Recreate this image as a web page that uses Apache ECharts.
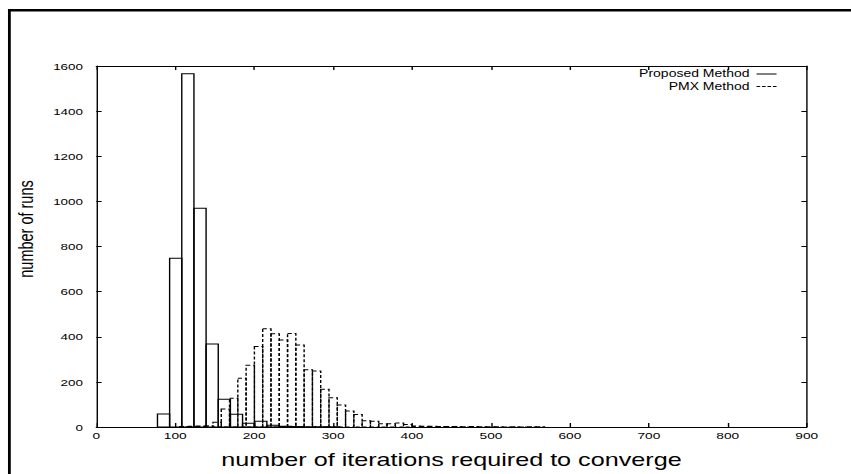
<!DOCTYPE html>
<html><head><meta charset="utf-8">
<script src="https://cdn.jsdelivr.net/npm/echarts@6/dist/echarts.min.js"></script>
<style>
html,body{margin:0;padding:0;background:#fff;overflow:hidden;width:851px;height:474px;}
#chart{width:608px;height:474px;transform:scaleX(1.39967);transform-origin:0 0;}
</style></head><body><div id="chart"></div>
<script>
// tick labels
const xTicks = [0, 100, 200, 300, 400, 500, 600, 700, 800, 900];
const yTicks = [0, 200, 400, 600, 800, 1000, 1200, 1400, 1600];
const seriesNames = ['Proposed Method', 'PMX Method'];
const xTitle = 'number of iterations required to converge';
const yTitle = 'number of runs';

// Proposed Method histogram (bin left edge, counts)
const proposedBinWidth = 15.4;
const proposedBinStart = [77.5, 92.9, 108.3, 123.7, 139.1, 154.5, 169.9, 185.3, 200.7, 216.1, 231.5, 246.9, 262.3, 277.7, 293.1];
const proposedCounts   = [58, 748, 1566, 970, 368, 123, 56, 17, 25, 8, 3, 2, 1, 1, 1];

// PMX Method histogram (bin left edge, counts)
const pmxBinWidth = 10.5;
const pmxBinStart = [105.8, 116.3, 126.8, 137.3, 147.8, 158.3, 168.8, 179.3, 189.8, 200.3,
  210.8, 221.3, 231.8, 242.3, 252.8, 263.3, 273.8, 284.3, 294.8, 305.3,
  315.8, 326.3, 336.8, 347.3, 357.8, 368.3, 378.8, 389.3, 399.8, 410.3,
  420.8, 431.3, 441.8, 452.3, 462.8, 473.3, 483.8, 494.3, 504.8, 515.3,
  525.8, 536.3, 546.8, 557.3];
const pmxCounts = [2, 3, 4, 5, 21, 80, 127, 216, 274, 357,
  435, 413, 386, 414, 363, 254, 248, 167, 130, 98,
  71, 55, 28, 25, 14, 14, 18, 11, 4, 3,
  3, 2, 2, 2, 1, 2, 1, 1, 1, 0,
  1, 0, 1, 1];

const FONT = 'Liberation Sans, Arial, Helvetica, sans-serif';

function histRender(dashed) {
  return function (params, api) {
    const x0 = api.value(0), x1 = api.value(1), y = api.value(2);
    const a = api.coord([x0, y]);
    const b = api.coord([x1, 0]);
    return {
      type: 'rect',
      shape: { x: a[0], y: a[1], width: b[0] - a[0], height: b[1] - a[1] },
      style: { fill: 'none', stroke: '#000', lineWidth: 1, lineDash: dashed ? [3, 2] : null }
    };
  };
}

const propData = proposedBinStart.map((s, i) => [s, s + proposedBinWidth, proposedCounts[i]]);
const pmxData = pmxBinStart.map((s, i) => [s, s + pmxBinWidth, pmxCounts[i]]);

const xMin = xTicks[0], xMax = xTicks[xTicks.length - 1], xInt = xTicks[1] - xTicks[0];
const yMin = yTicks[0], yMax = yTicks[yTicks.length - 1], yInt = yTicks[1] - yTicks[0];
const plain = v => String(v);

function xAxisCfg(pos, showLabel) {
  return {
    type: 'value', position: pos, min: xMin, max: xMax, interval: xInt,
    axisLine: { show: true, onZero: false, lineStyle: { color: '#000', width: 1 } },
    axisTick: { show: true, inside: true, length: 4, lineStyle: { color: '#000', width: 1 } },
    axisLabel: { show: showLabel, margin: 4, color: '#000', fontSize: 9.8, fontFamily: FONT, formatter: plain },
    splitLine: { show: false }
  };
}
function yAxisCfg(pos, showLabel) {
  return {
    type: 'value', position: pos, min: yMin, max: yMax, interval: yInt,
    axisLine: { show: true, onZero: false, lineStyle: { color: '#000', width: 1 } },
    axisTick: { show: true, inside: true, length: 3.8, lineStyle: { color: '#000', width: 1 } },
    axisLabel: { show: showLabel, margin: 9.5, color: '#000', fontSize: 9.6, fontFamily: FONT, formatter: plain },
    splitLine: { show: false }
  };
}

const xBottom = xAxisCfg('bottom', true);
xBottom.name = xTitle;
xBottom.nameLocation = 'middle';
xBottom.nameGap = 24;
xBottom.nameTextStyle = { color: '#000', fontSize: 18, fontFamily: FONT };

const chart = echarts.init(document.getElementById('chart'), null, { renderer: 'svg' });
chart.setOption({
  backgroundColor: '#fff',
  animation: false,
  grid: { left: 68.8, right: 31.65, top: 66, bottom: 47, containLabel: false, outerBoundsMode: 'none' },
  xAxis: [xBottom, xAxisCfg('top', false)],
  yAxis: [yAxisCfg('left', true), yAxisCfg('right', false)],
  legend: [
    {
      data: [{ name: seriesNames[0], icon: 'path://M0,0h143v10h-143z' }],
      right: 53.2, top: 69, padding: 0, align: 'right', orient: 'vertical',
      itemWidth: 14.3, itemHeight: 1, selectedMode: false,
      itemStyle: { color: '#000', borderWidth: 0 },
      textStyle: { color: '#000', fontSize: 10, fontFamily: FONT, lineHeight: 10 }
    },
    {
      data: [{ name: seriesNames[1], icon: 'path://M0,0h26v10h-26z M39,0h26v10h-26z M78,0h26v10h-26z M117,0h26v10h-26z' }],
      right: 53.2, top: 81.5, padding: 0, align: 'right', orient: 'vertical',
      itemWidth: 14.3, itemHeight: 1, selectedMode: false,
      itemStyle: { color: '#000', borderWidth: 0 },
      textStyle: { color: '#000', fontSize: 10, fontFamily: FONT, lineHeight: 10 }
    }
  ],
  graphic: [
    { type: 'line', silent: true, shape: { x1: 6.7, y1: 9, x2: 6.7, y2: 490 }, style: { stroke: '#000', lineWidth: 2 } },
    { type: 'line', silent: true, shape: { x1: 5.7, y1: 10.3, x2: 620, y2: 10.3 }, style: { stroke: '#000', lineWidth: 2.5 } },
    { type: 'text', silent: true, x: 18.9, y: 229, rotation: Math.PI / 2,
      style: { text: yTitle, fill: '#000', fontSize: 14.5, fontFamily: FONT, align: 'center', verticalAlign: 'middle', textAlign: 'center', textVerticalAlign: 'middle' } }
  ],
  series: [
    {
      name: seriesNames[0], type: 'custom', xAxisIndex: 0, yAxisIndex: 0,
      itemStyle: { color: '#000' },
      renderItem: histRender(false), encode: { x: [0, 1], y: 2 }, data: propData, clip: true
    },
    {
      name: seriesNames[1], type: 'custom', xAxisIndex: 0, yAxisIndex: 0,
      itemStyle: { color: '#000' },
      renderItem: histRender(true), encode: { x: [0, 1], y: 2 }, data: pmxData, clip: true
    }
  ]
});
</script></body></html>
